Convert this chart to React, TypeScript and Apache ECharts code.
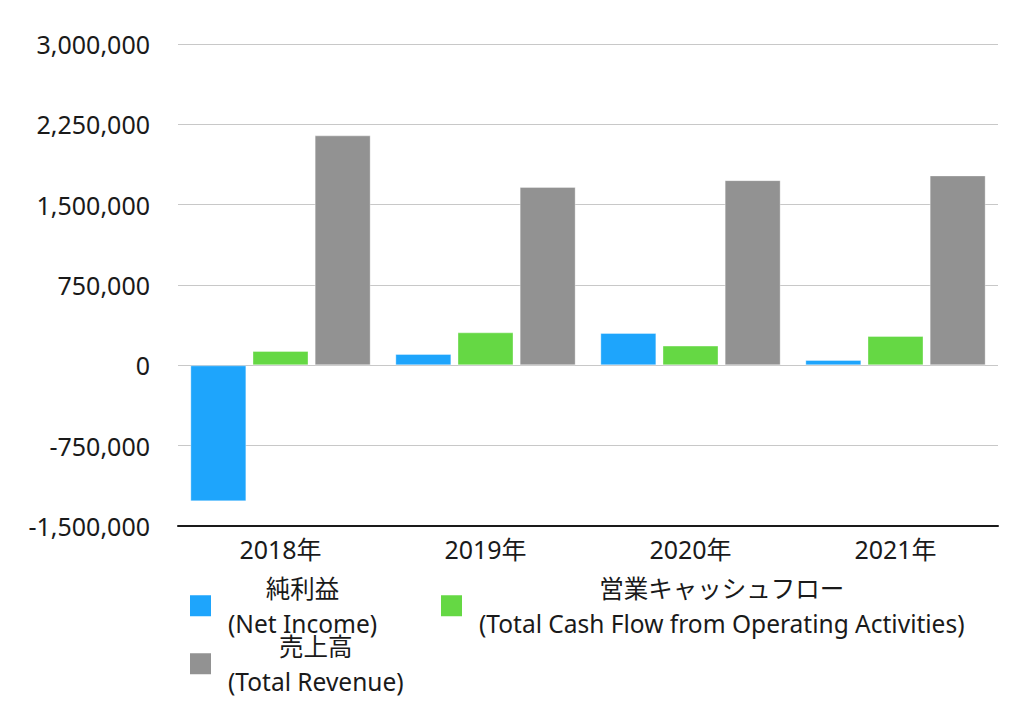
import React, { useEffect, useRef } from 'react';
import * as echarts from 'echarts';

const categories = ['2018年', '2019年', '2020年', '2021年'];
const netIncome = [-1270000, 106000, 302000, 50000];
const cashFlow = [134000, 308000, 184000, 274000];
const revenue = [2147000, 1666000, 1729000, 1773000];

const seriesJa = ['純利益', '営業キャッシュフロー', '売上高'];
const seriesEn = ['(Net Income)', '(Total Cash Flow from Operating Activities)', '(Total Revenue)'];
const seriesColors = ['#1EA5FC', '#65D844', '#929292'];

const yMin = -1500000;
const yMax = 3000000;
const yInterval = 750000;

const FONT = '"Noto Sans", "Noto Sans CJK JP", sans-serif';
const TEXT_COLOR = '#1a1a1a';

export default function App() {
  const ref = useRef<HTMLDivElement>(null);

  useEffect(() => {
    if (!ref.current) return;
    const chart = echarts.init(ref.current, undefined, { renderer: 'svg' });
    const values = [netIncome, cashFlow, revenue];
    const names = seriesJa.map((ja, i) => ja + ' ' + seriesEn[i]);

    const legendFor = (i: number, left: number, top: number) => ({
      data: [names[i]],
      left,
      top,
      padding: 0,
      icon: 'rect',
      itemWidth: 21,
      itemHeight: 21,
      itemGap: 0,
      itemTextGap: 17,
      selectedMode: false,
      itemStyle: { borderWidth: 0 },
      formatter: () => `{c|${seriesJa[i]}}\n{c|${seriesEn[i]}}`,
      textStyle: {
        padding: [0, 0, 0, 12],
        rich: {
          c: {
            align: 'center',
            fontSize: 24.5,
            lineHeight: 35,
            fontFamily: FONT,
            color: TEXT_COLOR,
          },
        },
      },
    });

    chart.setOption({
      animation: false,
      backgroundColor: '#ffffff',
      textStyle: { fontFamily: FONT },
      grid: { left: 178, right: 26, top: 44, bottom: 193, containLabel: false },
      legend: [legendFor(0, 190, 576), legendFor(1, 441, 576), legendFor(2, 190, 634)],
      xAxis: {
        type: 'category',
        data: categories,
        axisLine: { onZero: false, lineStyle: { color: '#1a1a1a', width: 2 } },
        axisTick: { show: false },
        axisLabel: { fontSize: 25, color: TEXT_COLOR, margin: 10, fontFamily: FONT },
      },
      yAxis: {
        type: 'value',
        min: yMin,
        max: yMax,
        interval: yInterval,
        axisLine: { show: false },
        axisTick: { show: false },
        splitLine: { lineStyle: { color: '#c8c8c8', width: 1 } },
        axisLabel: {
          fontSize: 25,
          color: TEXT_COLOR,
          margin: 28,
          fontFamily: FONT,
          formatter: (v: number) => v.toLocaleString('en-US'),
        },
      },
      series: values.map((data, i) => ({
        name: names[i],
        type: 'bar',
        data,
        barWidth: 56,
        barGap: '11%',
        itemStyle: {
          color: seriesColors[i],
          borderColor: 'rgba(255,255,255,0.35)',
          borderWidth: 1,
        },
      })),
    });
    return () => chart.dispose();
  }, []);

  return (
    <div
      ref={ref}
      style={{ position: 'absolute', left: 0, top: 0, width: 1024, height: 719 }}
    />
  );
}
